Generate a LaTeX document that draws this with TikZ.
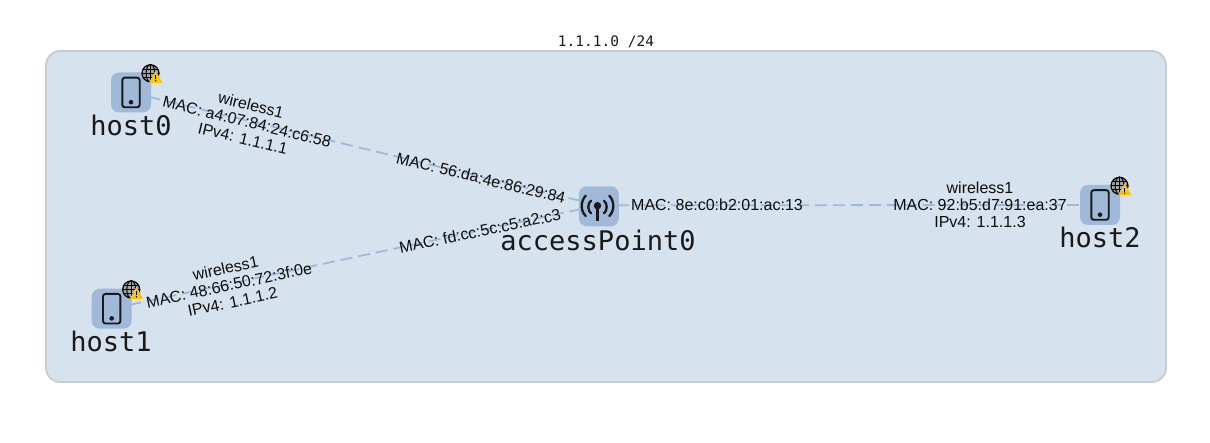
\documentclass[tikz,border=0pt]{standalone}
\usepackage{fontspec}
\setmainfont{Liberation Sans}
\newfontfamily\monofam{DejaVu Sans Mono}
\definecolor{netfill}{HTML}{D6E2EE}
\definecolor{netline}{HTML}{C8CCD0}
\definecolor{boxfill}{HTML}{A0B9D9}
\definecolor{edgecol}{HTML}{A0B9D9}
\definecolor{warnfill}{HTML}{F5C518}
\pgfdeclarelayer{back}
\pgfdeclarelayer{links}
\pgfsetlayers{back,links,main}
\tikzset{
  x=1pt,y=-1pt,
  devicebox/.style={fill=boxfill,rounded corners=8pt,minimum width=40pt,minimum height=40pt,inner sep=0pt,draw=none},
  devname/.style={font=\monofam\fontsize{27}{27}\selectfont,text=black!90,inner sep=0pt,anchor=center},
  iflabel/.style={font=\fontsize{16}{17.2}\selectfont,text=black!95,align=center,inner sep=0pt,anchor=center},
  netlabel/.style={font=\monofam\fontsize{14.5}{14.5}\selectfont,text=black!90,inner sep=0pt},
  linkline/.style={draw=edgecol,line width=1.8pt,dash pattern=on 12pt off 6pt},
  phoneicon/.pic={
    \draw[black!90,line width=1.9pt,rounded corners=2.5pt] (-8.7,-14.8) rectangle (8.7,14.8);
    \fill[black!90] (0,9.7) circle (2.3);
  },
  globeicon/.pic={
    \fill[black!35] (0,0) circle (8.8);
    \draw[black,line width=1pt] (-8.2,0) -- (8.2,0) (-7.6,-4.2) -- (7.6,-4.2) (-7.6,4.2) -- (7.6,4.2) (0,-8.8) -- (0,8.8);
    \draw[black,line width=1pt] (0,0) ellipse (4.4 and 8.8);
    \draw[black,line width=1.2pt] (0,0) circle (8.5);
    \fill[warnfill,draw=warnfill,line join=round,line width=1.2pt] (5.2,-1.4) -- (11,9) -- (-0.6,9) -- cycle;
    \fill[black] (4.6,2) rectangle (5.8,6);
    \fill[black] (5.2,7.4) circle (.75);
  },
}
\begin{document}
\begin{tikzpicture}
\useasboundingbox (0,0) rectangle (1210,443);
\node[netlabel] (title) at (606,42) {1.1.1.0 /24};
\begin{pgfonlayer}{back}
\draw[netline,fill=netfill,line width=1.8pt,rounded corners=14pt] (46,51) rectangle (1166,382);
\end{pgfonlayer}

\node[devicebox] (host0) at (131,92.5) {};
\node[devicebox] (host1) at (111.7,308.7) {};
\node[devicebox] (host2) at (1100,205) {};
\node[devicebox] (ap) at (598.8,206.3) {};
\coordinate (apc) at (598.8,205.3);

\begin{pgfonlayer}{links}
\draw[linkline] (host0.center) -- (apc);
\draw[linkline] (host1.center) -- (apc);
\draw[linkline] (apc) -- (host2.center);
\end{pgfonlayer}

\pic at (131,92.5) {phoneicon};
\pic at (111.7,308.7) {phoneicon};
\pic at (1100,205) {phoneicon};
\pic at (150.5,73.3) {globeicon};
\pic at (131.2,289.5) {globeicon};
\pic at (1119.5,185.8) {globeicon};

% access point antenna
\fill[black!90] (597.5,205.7) circle (3.7);
\draw[black!90,line width=2.3pt] (597.5,205.7) -- (597.5,221);
\draw[black!90,line width=2.3pt,line cap=round]
  (591,200.7) .. controls (587.4,203.5) and (587.4,210.5) .. (591,213.3)
  (604,200.7) .. controls (607.6,203.5) and (607.6,210.5) .. (604,213.3)
  (585.7,195.7) .. controls (580.4,201) and (580.4,211) .. (585.7,216)
  (609.3,195.7) .. controls (614.6,201) and (614.6,211) .. (609.3,216);

\node[devname] (n0) at (131,125) {host0};
\node[devname] (n1) at (111,341) {host1};
\node[devname] (n2) at (1100,237) {host2};
\node[devname] (nap) at (598,240) {accessPoint0};

\node[iflabel,rotate=-13.7] (l0) at (247,121.5) {wireless1\\MAC: a4:07:84:24:c6:58\\IPv4: 1.1.1.1};
\node[iflabel,rotate=11.9] (l1) at (229,285) {wireless1\\MAC: 48:66:50:72:3f:0e\\IPv4: 1.1.1.2};
\node[iflabel] (l2) at (980,205) {wireless1\\MAC: 92:b5:d7:91:ea:37\\IPv4: 1.1.1.3};
\node[iflabel,rotate=-13.7] (a0) at (481,178) {MAC: 56:da:4e:86:29:84};
\node[iflabel,rotate=11.9] (a1) at (480,231) {MAC: fd:cc:5c:c5:a2:c3};
\node[iflabel] (a2) at (717,205) {MAC: 8e:c0:b2:01:ac:13};
\end{tikzpicture}
\end{document}
